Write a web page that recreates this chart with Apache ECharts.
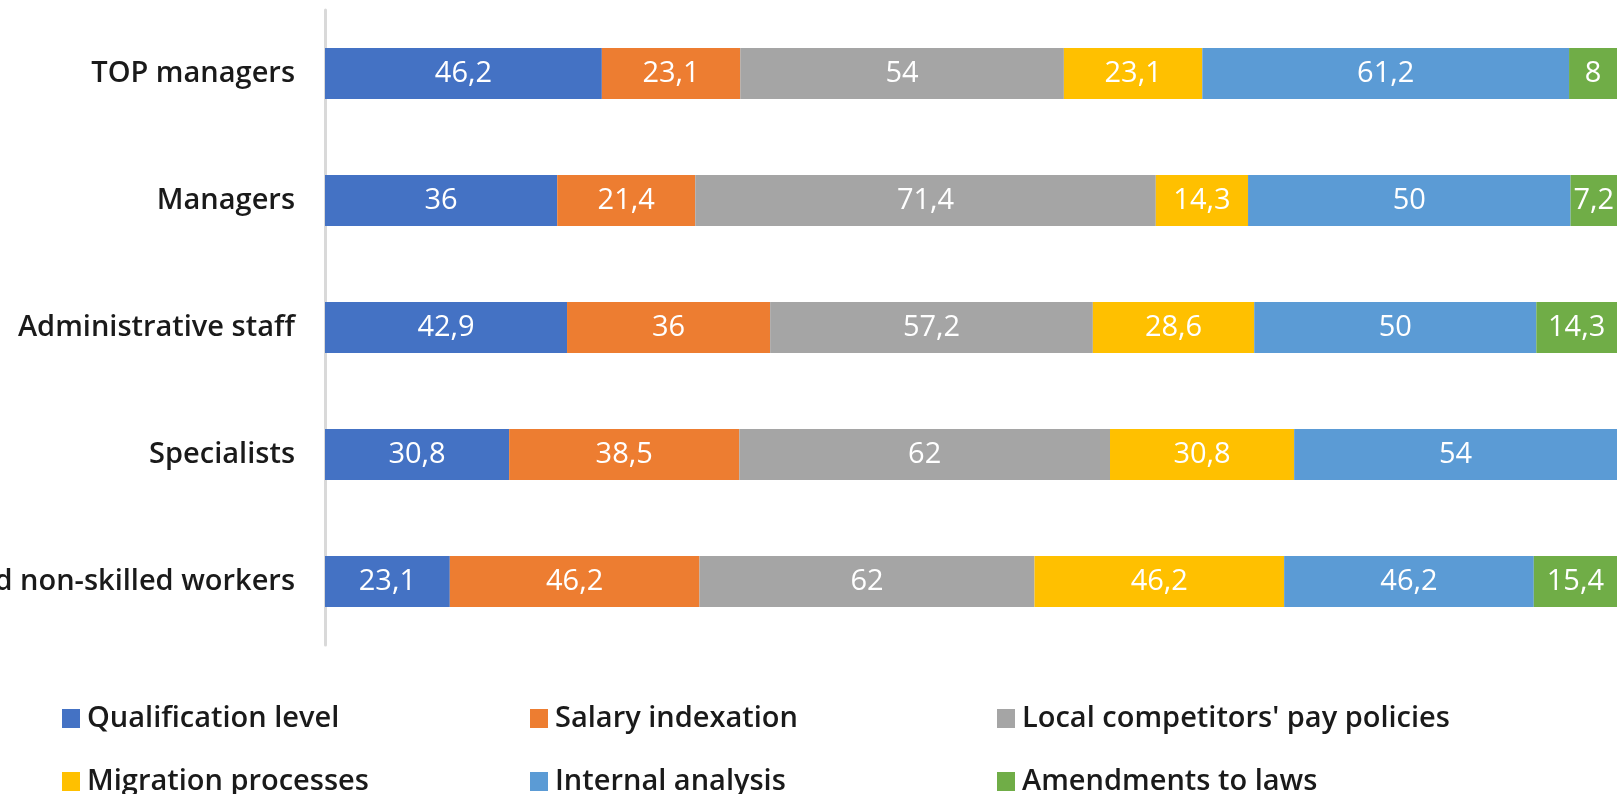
<!DOCTYPE html>
<html>
<head>
<meta charset="utf-8">
<script src="https://cdn.jsdelivr.net/npm/echarts@6/dist/echarts.min.js"></script>
<style>
html,body{margin:0;padding:0;background:#fff;}
#chart{width:1623px;height:794px;}
</style>
</head>
<body>
<div id="chart"></div>
<script>
const categories = ['TOP managers', 'Managers', 'Administrative staff', 'Specialists', 'Skilled and non-skilled workers'];
const seriesNames = ['Qualification level', 'Salary indexation', "Local competitors' pay policies", 'Migration processes', 'Internal analysis', 'Amendments to laws'];
const qualification = [46.2, 36, 42.9, 30.8, 23.1];
const salary = [23.1, 21.4, 36, 38.5, 46.2];
const localPay = [54, 71.4, 57.2, 62, 62];
const migration = [23.1, 14.3, 28.6, 30.8, 46.2];
const internal = [61.2, 50, 50, 54, 46.2];
const amendments = [8, 7.2, 14.3, null, 15.4];
const colors = ['#4472C4', '#ED7D31', '#A5A5A5', '#FFC000', '#5B9BD5', '#70AD47'];

const values = [qualification, salary, localPay, migration, internal, amendments];
const totals = categories.map((c, i) => values.reduce((s, arr) => s + (arr[i] == null ? 0 : arr[i]), 0));

const FONT = "'Open Sans', 'DejaVu Sans', sans-serif";

const series = values.map((arr, k) => ({
  name: seriesNames[k],
  type: 'bar',
  stack: 'total',
  barWidth: 51,
  itemStyle: { color: colors[k] },
  label: {
    show: true,
    position: 'inside',
    color: '#ffffff',
    fontSize: 29,
    fontFamily: FONT,
    formatter: p => (p.data && p.data.raw != null) ? String(p.data.raw).replace('.', ',') : ''
  },
  data: arr.map((v, i) => v == null ? null : { value: v / totals[i] * 100, raw: v })
}));

const legendCols = [57, 525, 992];
const legendRows = [699, 762];
const legends = seriesNames.map((n, k) => ({
  data: [n],
  left: legendCols[k % 3],
  top: legendRows[Math.floor(k / 3)],
  icon: 'rect',
  itemWidth: 18,
  itemHeight: 19,
  textStyle: { fontSize: 29, fontFamily: FONT, fontWeight: 600, color: '#1a1a1a', padding: [0, 0, 0, 2] },
  selectedMode: false
}));

const chart = echarts.init(document.getElementById('chart'));
chart.setOption({
  animation: false,
  color: colors,
  grid: { left: 325, right: 6, top: 10, bottom: 149, containLabel: false, outerBoundsMode: 'none' },
  xAxis: {
    type: 'value', min: 0, max: 100,
    show: false
  },
  yAxis: {
    type: 'category',
    data: categories,
    inverse: true,
    axisLine: { show: true, lineStyle: { color: '#d9d9d9', width: 3 } },
    axisTick: { show: false },
    splitLine: { show: false },
    axisLabel: { margin: 30, fontSize: 29, fontFamily: FONT, fontWeight: 600, color: '#1a1a1a' }
  },
  legend: legends,
  series: series
});
</script>
</body>
</html>
